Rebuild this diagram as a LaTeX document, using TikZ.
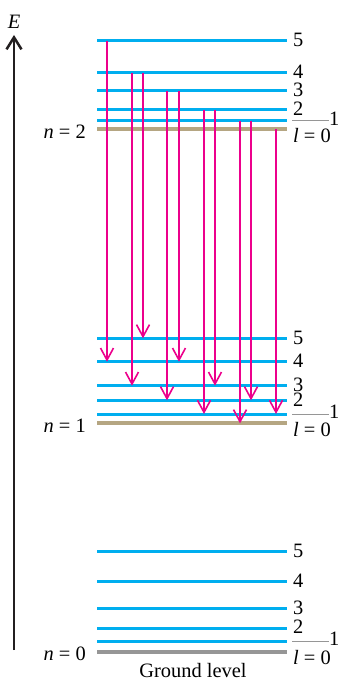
\documentclass[tikz,border=0pt]{standalone}
\usepackage{fontspec}
\setmainfont{Liberation Serif}
\usetikzlibrary{arrows.meta}
\definecolor{lvblue}{RGB}{0,174,239}
\definecolor{lvtan}{RGB}{181,166,130}
\definecolor{lvgrey}{RGB}{150,150,150}
\definecolor{trmag}{RGB}{236,0,140}
\definecolor{axblack}{RGB}{35,31,32}
\tikzset{
  lvline/.style={line width=3bp,draw=lvblue},
  baseline0/.style={line width=4bp,draw=lvtan},
  groundline/.style={line width=4bp,draw=lvgrey},
  trans/.style={line width=1.6bp,draw=trmag,-{Straight Barb[length=12bp,width=13bp]}},
  tight/.style={inner sep=0pt,text height=13.5pt,text depth=0pt},
  lvlabel/.style={tight,anchor=west},
  nlabel/.style={tight,anchor=east},
  tick/.style={line width=0.8bp,draw=lvgrey}
}
\begin{document}
\begin{tikzpicture}[x=1bp,y=-1bp,font=\fontsize{20.5}{24}\selectfont]
\useasboundingbox (0,0) rectangle (341,682);
% axis
\coordinate (axbot) at (14,650);
\coordinate (axtop) at (14,35);
\draw[line width=2.5bp,draw=axblack,-{Straight Barb[length=12bp,width=15bp]}] (axbot) -- (axtop);
\node[tight] (E) at (14,21.5) {\textit{E}};
% levels: group, l, y
\foreach \g/\ys in {2/{129.3,120.7,110,90.7,73,40.7},1/{423.3,414,400.3,385.7,361.7,338.3},0/{651.7,641,628,608.3,581.3,551.3}}{
  \foreach \y [count=\l from 0] in \ys {
    \coordinate (A-\g-\l) at (97,\y);
    \coordinate (B-\g-\l) at (287,\y);
  }
}
\foreach \g in {0,1,2}{
  \foreach \l in {1,...,5}{ \draw[lvline] (A-\g-\l) -- (B-\g-\l); }
}
\draw[baseline0] (A-2-0) -- (B-2-0);
\draw[baseline0] (A-1-0) -- (B-1-0);
\draw[groundline] (A-0-0) -- (B-0-0);
% labels
\foreach \g in {0,1,2}{
  \foreach \l in {2,...,5}{ \node[lvlabel] (lab-\g-\l) at ([xshift=6bp,yshift=1bp]B-\g-\l) {\l}; }
  \coordinate (t1-\g) at ([xshift=5bp]B-\g-1);
  \coordinate (t2-\g) at ([xshift=42bp]B-\g-1);
  \draw[tick] (t1-\g) -- (t2-\g);
  \node[lvlabel] (lab-\g-1) at ([yshift=2bp]t2-\g) {1};
  \node[lvlabel] (lab-\g-0) at ([xshift=6bp,yshift=-6bp]B-\g-0) {\textit{l} = 0};
  \node[nlabel] (n-\g) at ([xshift=-11bp,yshift=-2.5bp]A-\g-0) {\textit{n} = \g};
}
\node[anchor=base,inner sep=0pt] (ground) at (193,677.5) {Ground level};
% transitions
\foreach \i/\x in {1/107,2/132,3/143,4/167,5/179,6/204,7/215,8/240,9/251,10/276}{
  \coordinate (c\i) at (\x,0);
}
\draw[trans] (c1 |- A-2-5) -- (c1 |- A-1-4);
\draw[trans] (c2 |- A-2-4) -- (c2 |- A-1-3);
\draw[trans] (c3 |- A-2-4) -- (c3 |- A-1-5);
\draw[trans] (c4 |- A-2-3) -- (c4 |- A-1-2);
\draw[trans] (c5 |- A-2-3) -- (c5 |- A-1-4);
\draw[trans] (c6 |- A-2-2) -- (c6 |- A-1-1);
\draw[trans] (c7 |- A-2-2) -- (c7 |- A-1-3);
\draw[trans] (c8 |- A-2-1) -- (c8 |- A-1-0);
\draw[trans] (c9 |- A-2-1) -- (c9 |- A-1-2);
\draw[trans] (c10 |- A-2-0) -- (c10 |- A-1-1);
\end{tikzpicture}
\end{document}
